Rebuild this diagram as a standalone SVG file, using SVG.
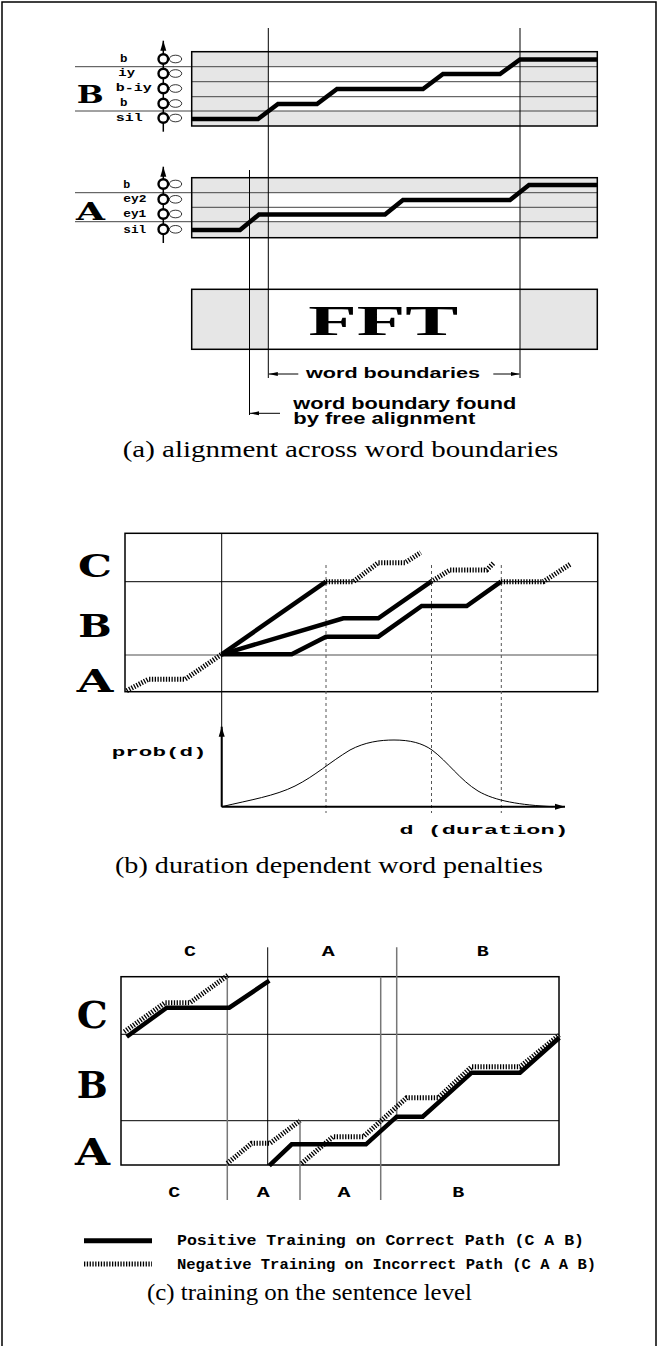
<svg xmlns="http://www.w3.org/2000/svg" width="658" height="1346" viewBox="0 0 658 1346">
<defs>
<style>
.mono{font-family:"Liberation Mono","Courier New",monospace;font-weight:bold;fill:#000}
.big{font-family:"DejaVu Serif","Liberation Serif",serif;font-weight:bold;fill:#000}
.sans{font-family:"Liberation Sans",Arial,sans-serif;font-weight:bold;fill:#000}
.cap{font-family:"Liberation Serif","Times New Roman",serif;font-size:24px;fill:#000}
.pos{fill:none;stroke:#000;stroke-width:4.5;stroke-linejoin:miter}
.neg{fill:none;stroke:#000;stroke-width:5;stroke-dasharray:1.3 1.5}
.grid{stroke:#444;stroke-width:1;fill:none}
.gray{stroke:#777;stroke-width:1.5;fill:none}
.shade{fill:#e6e6e6}
.frame{fill:none;stroke:#000;stroke-width:1.5}
.thin{stroke:#000;stroke-width:1;fill:none}
.dot{stroke:#555;stroke-width:1;stroke-dasharray:3 3;fill:none}
.state{fill:#fff;stroke:#000;stroke-width:2.4}
.loop{fill:#fff;stroke:#000;stroke-width:0.8}
</style>
<marker id="ah" markerUnits="userSpaceOnUse" markerWidth="10" markerHeight="6" refX="9" refY="3" orient="auto"><path d="M0,1 L9,3 L0,5 z" fill="#000"/></marker>
<marker id="ax" markerUnits="userSpaceOnUse" markerWidth="10" markerHeight="8" refX="10" refY="4" orient="auto"><path d="M0,1 L10,4 L0,7 z" fill="#000"/></marker>
</defs>
<rect width="658" height="1346" fill="#fff"/>
<path d="M2,1346 V2 H656 V1346" class="frame"/>

<!-- Panel (a) -->
<g id="word-B">
<rect class="shade" x="191.7" y="51.7" width="405.6" height="74.3"/>
<rect fill="#fff" x="268.3" y="66.7" width="251.7" height="44.3"/>
<path class="grid" d="M75,66.7 H597.3 M191.7,81.7 H597.3 M191.7,96.7 H597.3 M75,111 H597.3"/>
<rect class="frame" x="191.7" y="51.7" width="405.6" height="74.3"/>
<path class="pos" stroke-width="4" d="M192,119 H258 L278,104 H317 L337,89 H423 L443,74 H500 L520,59.5 H597"/>
<text class="big" font-size="25" x="76.7" y="103.3" textLength="27" lengthAdjust="spacingAndGlyphs">B</text>
<g class="mono" font-size="10">
<text x="120" y="61.5" textLength="7.5" lengthAdjust="spacingAndGlyphs">b</text>
<text x="118.3" y="76" textLength="16.7" lengthAdjust="spacingAndGlyphs">iy</text>
<text x="115.7" y="91" textLength="36" lengthAdjust="spacingAndGlyphs">b-iy</text>
<text x="120" y="106" textLength="7.5" lengthAdjust="spacingAndGlyphs">b</text>
<text x="115.7" y="121" textLength="27" lengthAdjust="spacingAndGlyphs">sil</text>
</g>
<line x1="163.3" y1="131.7" x2="163.3" y2="40.7" stroke="#000" stroke-width="1.5" marker-end="url(#ax)"/>
<g>
<ellipse class="loop" cx="175.5" cy="59" rx="6.2" ry="3.8"/><circle class="state" cx="163.3" cy="59" r="4.8"/>
<ellipse class="loop" cx="175.5" cy="73.5" rx="6.2" ry="3.8"/><circle class="state" cx="163.3" cy="73.5" r="4.8"/>
<ellipse class="loop" cx="175.5" cy="88.5" rx="6.2" ry="3.8"/><circle class="state" cx="163.3" cy="88.5" r="4.8"/>
<ellipse class="loop" cx="175.5" cy="103.5" rx="6.2" ry="3.8"/><circle class="state" cx="163.3" cy="103.5" r="4.8"/>
<ellipse class="loop" cx="175.5" cy="118" rx="6.2" ry="3.8"/><circle class="state" cx="163.3" cy="118" r="4.8"/>
</g>
</g>

<g id="word-A">
<rect class="shade" x="191.7" y="177.7" width="405.6" height="60"/>
<rect fill="#fff" x="268.3" y="192.7" width="251.7" height="29"/>
<path class="grid" d="M75,192.7 H597.3 M191.7,207.3 H597.3 M75,221.7 H597.3"/>
<rect class="frame" x="191.7" y="177.7" width="405.6" height="60"/>
<path class="pos" stroke-width="4" d="M192,230 H240 L259,214.5 H385 L403,200 H510 L529,185 H597"/>
<text class="big" font-size="25" x="76" y="220" textLength="29" lengthAdjust="spacingAndGlyphs">A</text>
<g class="mono" font-size="10">
<text x="123.3" y="187.5" textLength="7" lengthAdjust="spacingAndGlyphs">b</text>
<text x="123.3" y="202" textLength="23.3" lengthAdjust="spacingAndGlyphs">ey2</text>
<text x="123.3" y="217" textLength="23" lengthAdjust="spacingAndGlyphs">ey1</text>
<text x="123.3" y="232.5" textLength="23" lengthAdjust="spacingAndGlyphs">sil</text>
</g>
<line x1="163.3" y1="243" x2="163.3" y2="166.7" stroke="#000" stroke-width="1.5" marker-end="url(#ax)"/>
<g>
<ellipse class="loop" cx="175.5" cy="184" rx="6.2" ry="3.8"/><circle class="state" cx="163.3" cy="184" r="4.8"/>
<ellipse class="loop" cx="175.5" cy="199.3" rx="6.2" ry="3.8"/><circle class="state" cx="163.3" cy="199.3" r="4.8"/>
<ellipse class="loop" cx="175.5" cy="214" rx="6.2" ry="3.8"/><circle class="state" cx="163.3" cy="214" r="4.8"/>
<ellipse class="loop" cx="175.5" cy="229.3" rx="6.2" ry="3.8"/><circle class="state" cx="163.3" cy="229.3" r="4.8"/>
</g>
</g>

<g id="fft">
<rect class="shade" x="191.7" y="289.3" width="405.6" height="60"/>
<rect fill="#fff" x="268.3" y="289.3" width="251.7" height="60"/>
<rect class="frame" x="191.7" y="289.3" width="405.6" height="60"/>
<text font-family="'Liberation Serif','Times New Roman',serif" font-weight="bold" font-size="43" x="308.3" y="335" textLength="150" lengthAdjust="spacingAndGlyphs">FFT</text>
</g>

<g id="boundaries">
<path class="thin" d="M268.3,28 V378 M520,28 V378 M249.5,170 V415"/>
<line class="thin" x1="298.3" y1="374" x2="268.8" y2="374" marker-end="url(#ah)"/>
<line class="thin" x1="493.3" y1="374" x2="519.5" y2="374" marker-end="url(#ah)"/>
<line class="thin" x1="280" y1="413.3" x2="250" y2="413.3" marker-end="url(#ah)"/>
<text class="sans" font-size="15" x="306" y="378.3" textLength="174" lengthAdjust="spacingAndGlyphs">word boundaries</text>
<text class="sans" font-size="16" x="293.3" y="409" textLength="223" lengthAdjust="spacingAndGlyphs">word boundary found</text>
<text class="sans" font-size="16" x="293.3" y="424" textLength="182" lengthAdjust="spacingAndGlyphs">by free alignment</text>
</g>
<text class="cap" x="122.7" y="456.7" textLength="435.6" lengthAdjust="spacingAndGlyphs">(a) alignment across word boundaries</text>

<!-- Panel (b) -->
<g id="panel-b-grid">
<path class="thin" d="M125,581.7 H597.7"/>
<path stroke="#888" stroke-width="1.5" d="M125,655 H597.7"/>
<rect class="frame" x="125" y="533.3" width="472.7" height="158.4"/>
<path class="thin" stroke-width="1.2" d="M221.7,533.3 V806.7"/>
<path class="dot" d="M326,565 V813 M431.5,565 V813 M501.3,565 V813"/>
<text class="big" font-size="32" x="78" y="576.7" textLength="34" lengthAdjust="spacingAndGlyphs">C</text>
<text class="big" font-size="32" x="78.3" y="636.7" textLength="33.4" lengthAdjust="spacingAndGlyphs">B</text>
<text class="big" font-size="32" x="76.7" y="691.7" textLength="36.6" lengthAdjust="spacingAndGlyphs">A</text>
</g>
<g id="panel-b-paths">
<path class="pos" stroke-width="5" d="M221.7,654.3 L326,581.7"/>
<path class="pos" stroke-width="5" d="M221.7,654.3 L343.3,618.3 H378.3 L431,581.7"/>
<path class="pos" stroke-width="5" d="M221.7,654.3 H291.7 L326,636.7 H378.3 L421.7,606 H466.7 L501,581.7"/>
<path class="neg" d="M126.7,690.7 L148.3,679.3 H185 L221.7,654.3"/>
<path class="neg" d="M326,581.7 H353.3 L378.3,562.7 H405 L420.7,552.7"/>
<path class="neg" d="M431,581.7 L450,570 H486.7 L493.3,563.3"/>
<path class="neg" d="M501,581.7 H543.3 L570,564.3"/>
</g>
<g id="duration-plot">
<line x1="221.7" y1="806.7" x2="221.7" y2="726.7" stroke="#000" stroke-width="2" marker-end="url(#ax)"/>
<line x1="221.7" y1="806.7" x2="565" y2="806.7" stroke="#000" stroke-width="2" marker-end="url(#ax)"/>
<path fill="none" stroke="#000" stroke-width="1" d="M221.7,806.7 C250,800 275,796 295,786 C315,776 330,762 350,750 C365,742 380,740 394,740 C410,740 422,743 432,750 C448,762 460,780 478,791 C495,801 520,805 553,806.7"/>
<text class="mono" font-size="13" x="111.7" y="755.7" textLength="95" lengthAdjust="spacingAndGlyphs">prob(d)</text>
<text class="mono" font-size="13" x="399.6" y="834" textLength="169" lengthAdjust="spacingAndGlyphs">d (duration)</text>
</g>
<text class="cap" x="115" y="873" textLength="428" lengthAdjust="spacingAndGlyphs">(b) duration dependent word penalties</text>

<!-- Panel (c) -->
<g id="panel-c-grid">
<path class="thin" stroke-width="1.5" d="M121,1034.3 H559 M121,1120.7 H559"/>
<rect class="frame" x="121" y="976.7" width="438" height="188.3"/>
<path class="gray" d="M227.3,976.7 V1200 M380.7,976.7 V1200 M396.7,947.3 V1120.7"/>
<path class="gray" stroke-width="1" d="M300,1120.7 V1200"/>
<path class="thin" d="M267.7,947.3 V1165"/>
<text class="big" font-size="38" x="76.7" y="1028" textLength="31" lengthAdjust="spacingAndGlyphs">C</text>
<text class="big" font-size="38" x="76.7" y="1098" textLength="31" lengthAdjust="spacingAndGlyphs">B</text>
<text class="big" font-size="38" x="75" y="1165" textLength="35" lengthAdjust="spacingAndGlyphs">A</text>
<g class="mono" font-size="15" text-anchor="middle">
<text x="190" y="956" textLength="12" lengthAdjust="spacingAndGlyphs">C</text>
<text x="328.3" y="956" textLength="13" lengthAdjust="spacingAndGlyphs">A</text>
<text x="482.7" y="956" textLength="12" lengthAdjust="spacingAndGlyphs">B</text>
<text x="174.3" y="1197" textLength="12" lengthAdjust="spacingAndGlyphs">C</text>
<text x="263.3" y="1197" textLength="13" lengthAdjust="spacingAndGlyphs">A</text>
<text x="344" y="1197" textLength="13" lengthAdjust="spacingAndGlyphs">A</text>
<text x="458.3" y="1197" textLength="12" lengthAdjust="spacingAndGlyphs">B</text>
</g>
</g>
<g id="panel-c-paths">
<path class="pos" stroke-width="5" d="M126.7,1036.7 L166.7,1007.7 H229.3 L269.3,980.7"/>
<path class="pos" stroke-width="5" d="M269.3,1165.7 L291.7,1144.3 H366 L396.7,1116.7 H422.7 L471.7,1072.7 H520 L559.3,1037.7"/>
<path class="neg" d="M124.3,1031.7 L165,1002.7 H190 L228.3,975"/>
<path class="neg" d="M227.3,1163.3 L251.7,1143.3 H270 L300,1120.7"/>
<path class="neg" d="M301.7,1163.3 L333,1136.7 H363.3 L406.7,1097.7 H438.3 L471.7,1066.7 H520 L559.3,1035"/>
</g>
<g id="legend">
<line x1="84" y1="1240.7" x2="152" y2="1240.7" stroke="#000" stroke-width="5"/>
<line class="neg" x1="84" y1="1264" x2="152" y2="1264"/>
<text class="mono" font-size="14" x="177" y="1245" textLength="407" lengthAdjust="spacingAndGlyphs">Positive Training on Correct Path (C A B)</text>
<text class="mono" font-size="14" x="177" y="1269" textLength="419" lengthAdjust="spacingAndGlyphs">Negative Training on Incorrect Path (C A A B)</text>
</g>
<text class="cap" x="147" y="1300" textLength="325" lengthAdjust="spacingAndGlyphs">(c) training on the sentence level</text>
</svg>
